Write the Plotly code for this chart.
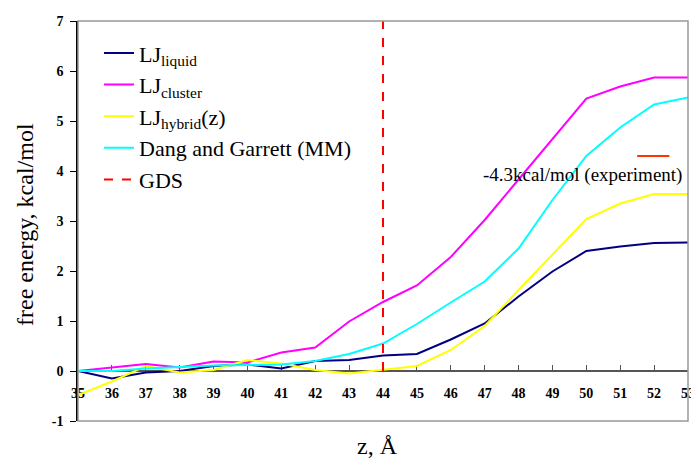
import plotly.graph_objects as go

z = [35, 36, 37, 38, 39, 40, 41, 42, 43, 44, 45, 46, 47, 48, 49, 50, 51, 52, 53]
lj_liquid = [0.0, -0.15, -0.03, 0.0, 0.1, 0.13, 0.05, 0.2, 0.22, 0.31, 0.34, 0.63, 0.95, 1.49, 1.99, 2.4, 2.49, 2.56, 2.57]
lj_cluster = [0.0, 0.07, 0.14, 0.07, 0.19, 0.17, 0.37, 0.47, 0.99, 1.38, 1.71, 2.28, 3.02, 3.83, 4.65, 5.45, 5.69, 5.87, 5.87]
lj_hybrid = [-0.48, -0.21, 0.1, -0.03, 0.02, 0.22, 0.15, 0.02, -0.05, 0.02, 0.1, 0.42, 0.9, 1.62, 2.32, 3.04, 3.35, 3.54, 3.54]
dang_garrett = [0.0, 0.0, 0.05, 0.08, 0.11, 0.12, 0.13, 0.2, 0.34, 0.55, 0.94, 1.37, 1.79, 2.45, 3.42, 4.3, 4.87, 5.33, 5.47]
gds_z = [44, 44]
gds_y = [0.0, 7.0]
exp_z = [51.5, 52.45]
exp_y = [4.3, 4.3]

y_ticks = [-1, 0, 1, 2, 3, 4, 5, 6, 7]
y_tick_text = ["-1", "0", "1", "2", "3", "4", "5", "6", "7"]

serif = "Liberation Serif"

fig = go.Figure()
fig.add_trace(go.Scatter(x=z, y=lj_liquid, mode="lines", name="LJ<sub>liquid</sub>",
                         line=dict(color="#000080", width=2)))
fig.add_trace(go.Scatter(x=z, y=lj_cluster, mode="lines", name="LJ<sub>cluster</sub>",
                         line=dict(color="#FF00FF", width=2)))
fig.add_trace(go.Scatter(x=z, y=lj_hybrid, mode="lines", name="LJ<sub>hybrid</sub>(z)",
                         line=dict(color="#FFFF00", width=2)))
fig.add_trace(go.Scatter(x=z, y=dang_garrett, mode="lines", name="Dang and Garrett (MM)",
                         line=dict(color="#00FFFF", width=2)))
fig.add_trace(go.Scatter(x=gds_z, y=gds_y, mode="lines", name="GDS",
                         line=dict(color="#FF0000", width=2, dash="dash")))
fig.add_trace(go.Scatter(x=exp_z, y=exp_y, mode="lines", showlegend=False,
                         line=dict(color="#FF3300", width=2)))

fig.update_layout(
    width=691, height=471,
    margin=dict(l=78, r=3, t=21, b=50, autoexpand=False),
    paper_bgcolor="white", plot_bgcolor="white",
    font=dict(family=serif, color="black"),
    showlegend=True,
    legend=dict(x=(99 - 78) / 610, y=0.972, xanchor="left", yanchor="top",
                bgcolor="rgba(0,0,0,0)", font=dict(family=serif, size=22, color="black"),
                itemwidth=30),
    xaxis=dict(range=[35, 53], tickmode="array", tickvals=z,
               anchor="free", position=0.125, automargin=False,
               showline=True, linecolor="#555555", linewidth=1.5,
               ticks="inside", ticklen=5, tickcolor="#555555",
               ticklabelstandoff=9, ticklabeloverflow="allow",
               showgrid=False, zeroline=False, layer="below traces",
               tickfont=dict(family=serif, size=14, color="black", weight="bold")),
    yaxis=dict(range=[-1, 7], tickmode="array", tickvals=y_ticks, ticktext=y_tick_text,
               automargin=False,
               showline=True, linecolor="black", linewidth=1.5,
               ticks="outside", ticklen=6, tickcolor="black",
               ticklabelstandoff=4,
               showgrid=False, zeroline=False,
               tickfont=dict(family=serif, size=14, color="black", weight="bold")),
    shapes=[dict(type="rect", xref="paper", yref="paper", x0=0, x1=1, y0=0, y1=1,
                 line=dict(color="#999999", width=1.5), layer="above")],
    annotations=[
        dict(text="-4.3kcal/mol (experiment)", x=(684 - 78) / 610, y=3.92, xref="paper", yref="y",
             xanchor="right", showarrow=False, font=dict(family=serif, size=19, color="black")),
        dict(text="z, Å", x=(377 - 78) / 610, y=(421 - 461) / 400, xref="paper", yref="paper",
             showarrow=False, font=dict(family=serif, size=24, color="black")),
        dict(text="free energy, kcal/mol", x=(25 - 78) / 610, y=0.49, xref="paper", yref="paper",
             textangle=-90, showarrow=False, xanchor="center", yanchor="middle",
             font=dict(family=serif, size=24, color="black")),
    ],
)

fig.write_html("out.html", config={"displayModeBar": False},
               post_script="document.body.style.margin='0';document.body.style.overflow='hidden';")
